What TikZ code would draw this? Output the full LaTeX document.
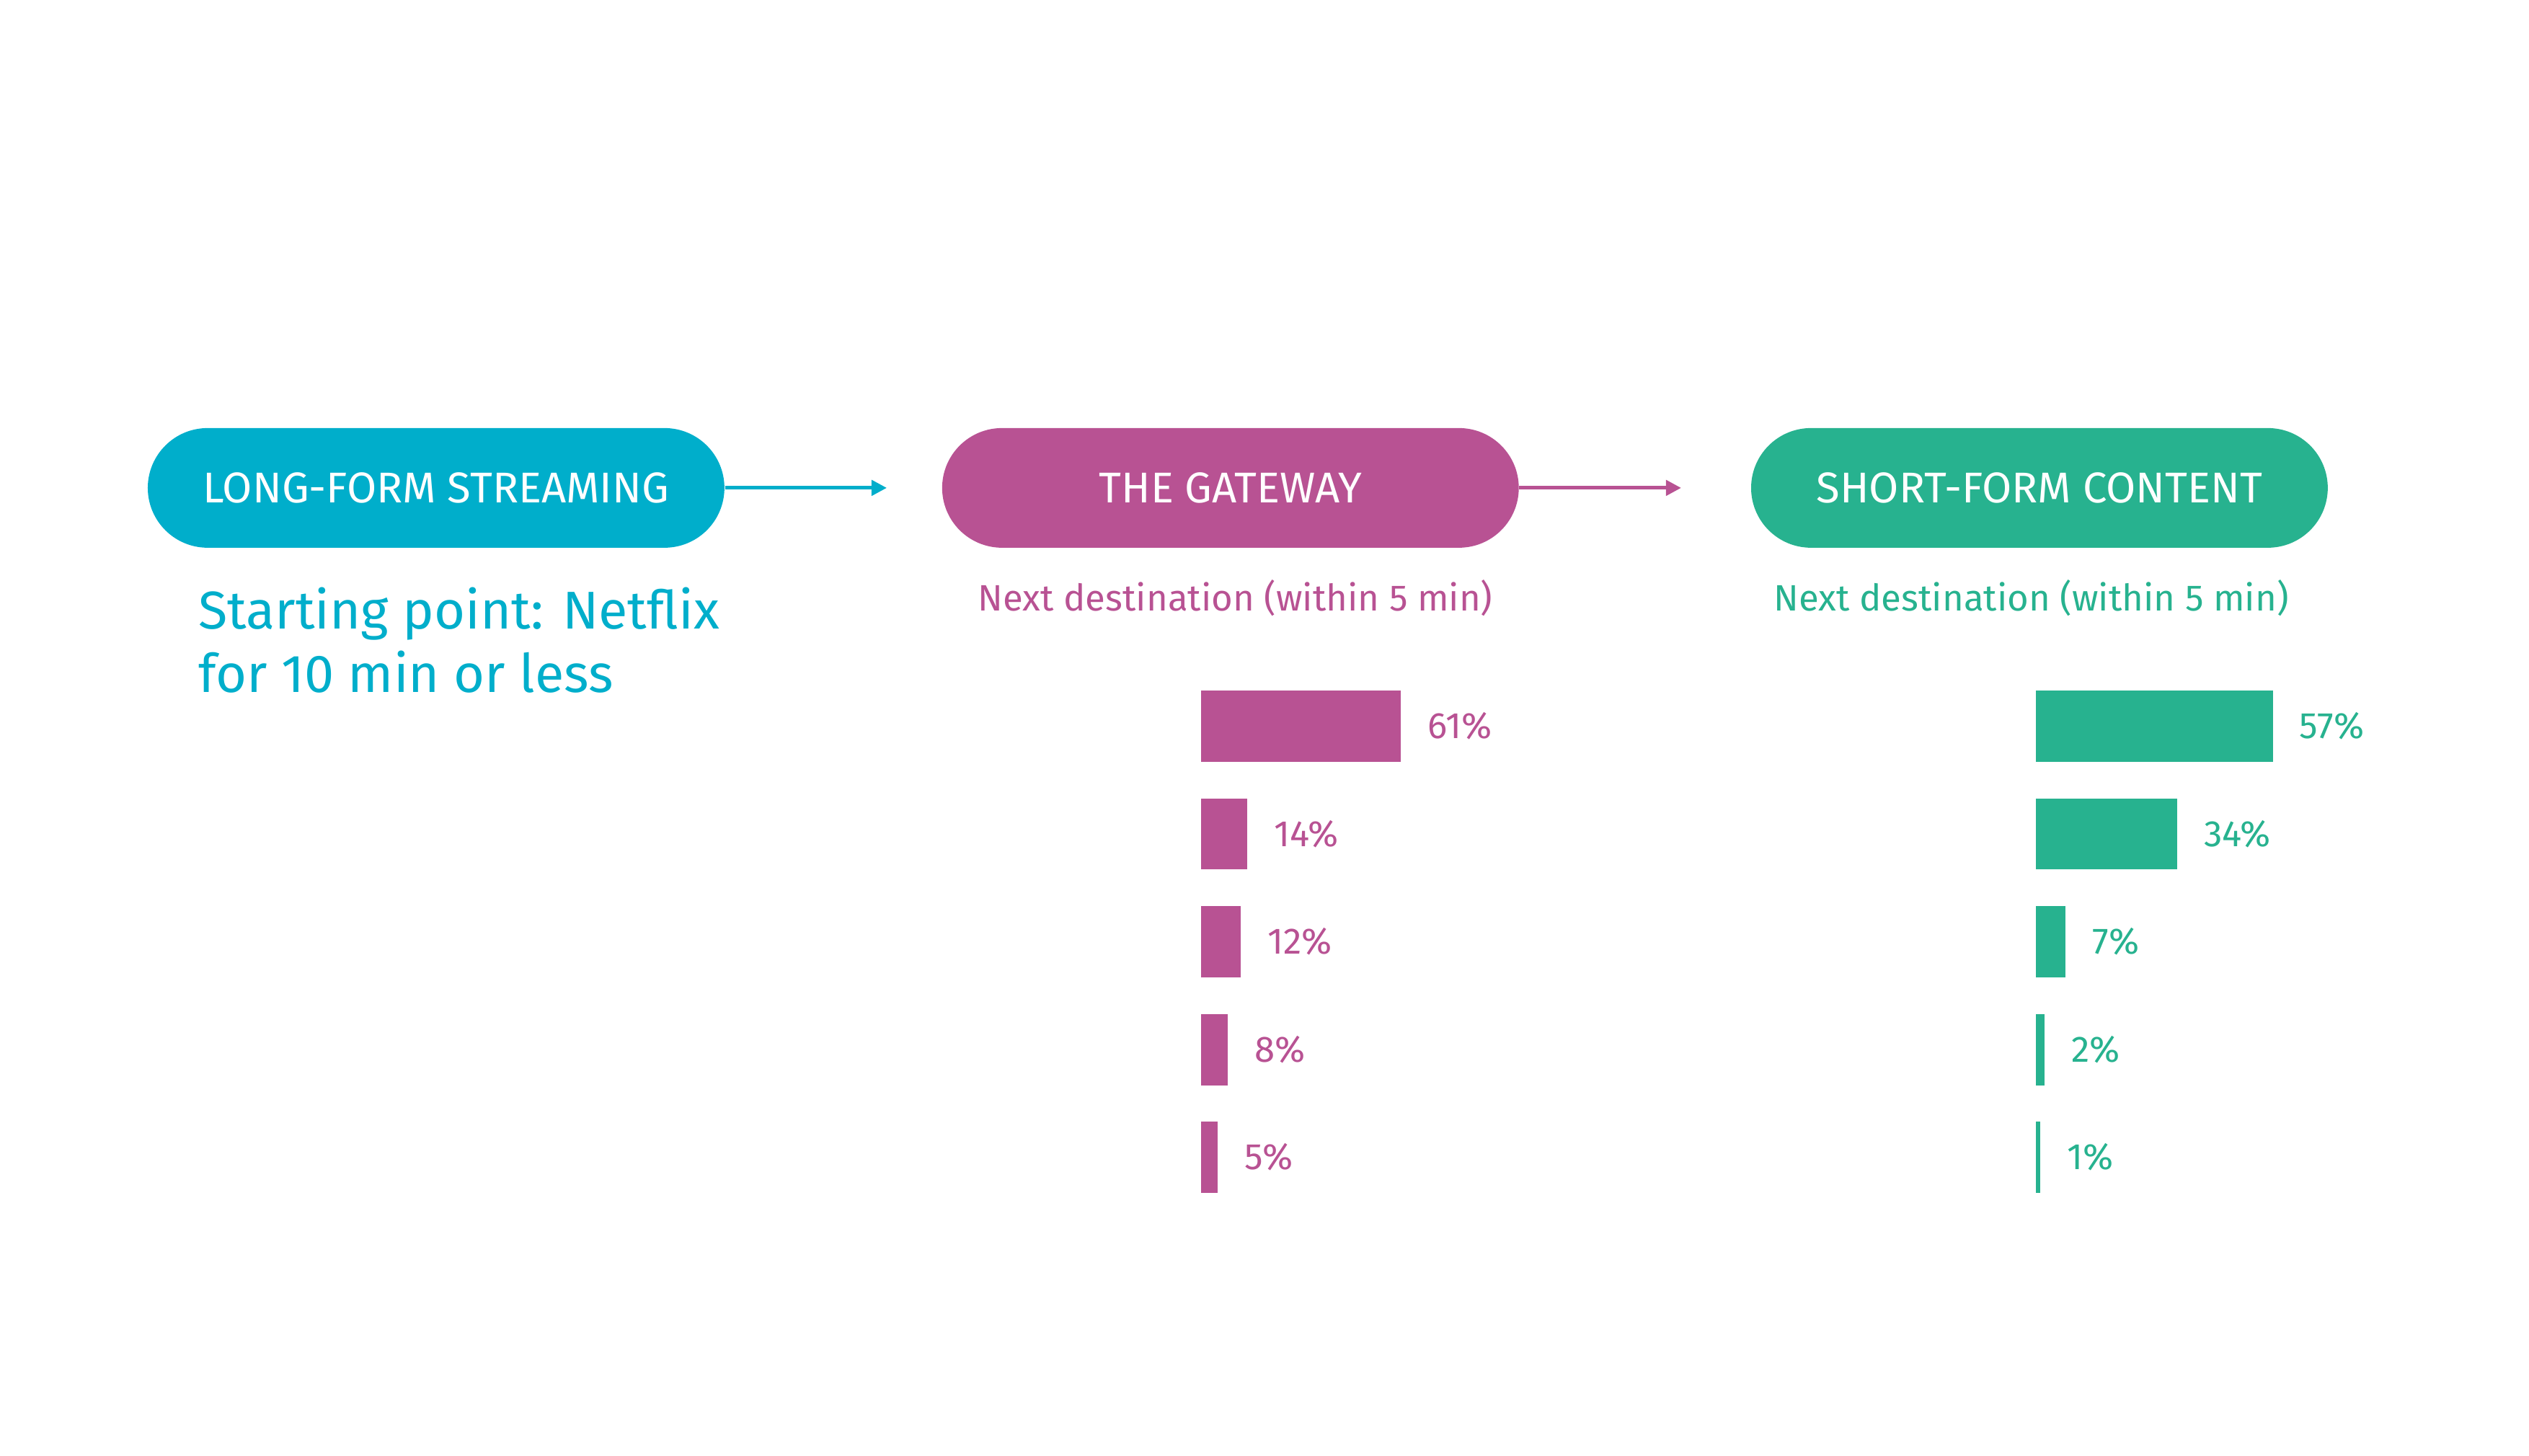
\documentclass[tikz,border=0pt]{standalone}
\usepackage{fontspec}
\setmainfont{Fira Sans}
\usetikzlibrary{arrows.meta}
\definecolor{cLong}{HTML}{00AECB}
\definecolor{cGate}{HTML}{B85293}
\definecolor{cShort}{HTML}{27B28F}
\begin{document}
\begin{tikzpicture}[x=0.02249cm,y=-0.02249cm,
  pill/.style={rounded corners=0.83cm, minimum width=8.0cm, minimum height=1.66cm,
    text=white, font=\fontsize{17}{20}\selectfont, inner sep=0pt},
  link/.style={-{Triangle[length=6pt,width=6pt]}, line width=1.4pt},
  sub/.style={font=\fontsize{14.5}{17}\selectfont},
  bar/.style={anchor=west, minimum height=0.99cm, inner sep=0pt, outer sep=0pt},
  pct/.style={anchor=west, font=\fontsize{14.5}{17}\selectfont}]
\useasboundingbox (0,0) rectangle (1560,898);
\node[pill, fill=cLong] (long) at (269,301) {LONG-FORM STREAMING};
\node[pill, fill=cGate] (gate) at (759,301) {THE GATEWAY};
\node[pill, fill=cShort] (short) at (1258,301) {SHORT-FORM CONTENT};
\coordinate (a1) at (547,301);
\coordinate (a2) at (1037,301);
\draw[link, cLong] (long.east) -- (a1);
\draw[link, cGate] (gate.east) -- (a2);
\node[anchor=north west, align=left, text=cLong, font=\fontsize{21}{25}\selectfont, inner sep=0pt]
  (start) at (122,362) {Starting point: Netflix\\for 10 min or less};
\node[sub, text=cGate] (gsub) at (762,369) {Next destination (within 5 min)};
\node[sub, text=cShort] (ssub) at (1253,369) {Next destination (within 5 min)};
\foreach \v [count=\i] in {61,14,12,8,5}{
  \node[bar, fill=cGate, minimum width=\v*2.02*0.02249cm] (g\i) at (741,{448+66.5*(\i-1)}) {};
  \node[pct, text=cGate] (gl\i) at ([xshift=0.25cm]g\i.east) {\v\%};
}
\foreach \v [count=\i] in {57,34,7,2,1}{
  \node[bar, fill=cShort, minimum width=\v*2.56*0.02249cm] (s\i) at (1256,{448+66.5*(\i-1)}) {};
  \node[pct, text=cShort] (sl\i) at ([xshift=0.25cm]s\i.east) {\v\%};
}
\end{tikzpicture}
\end{document}
